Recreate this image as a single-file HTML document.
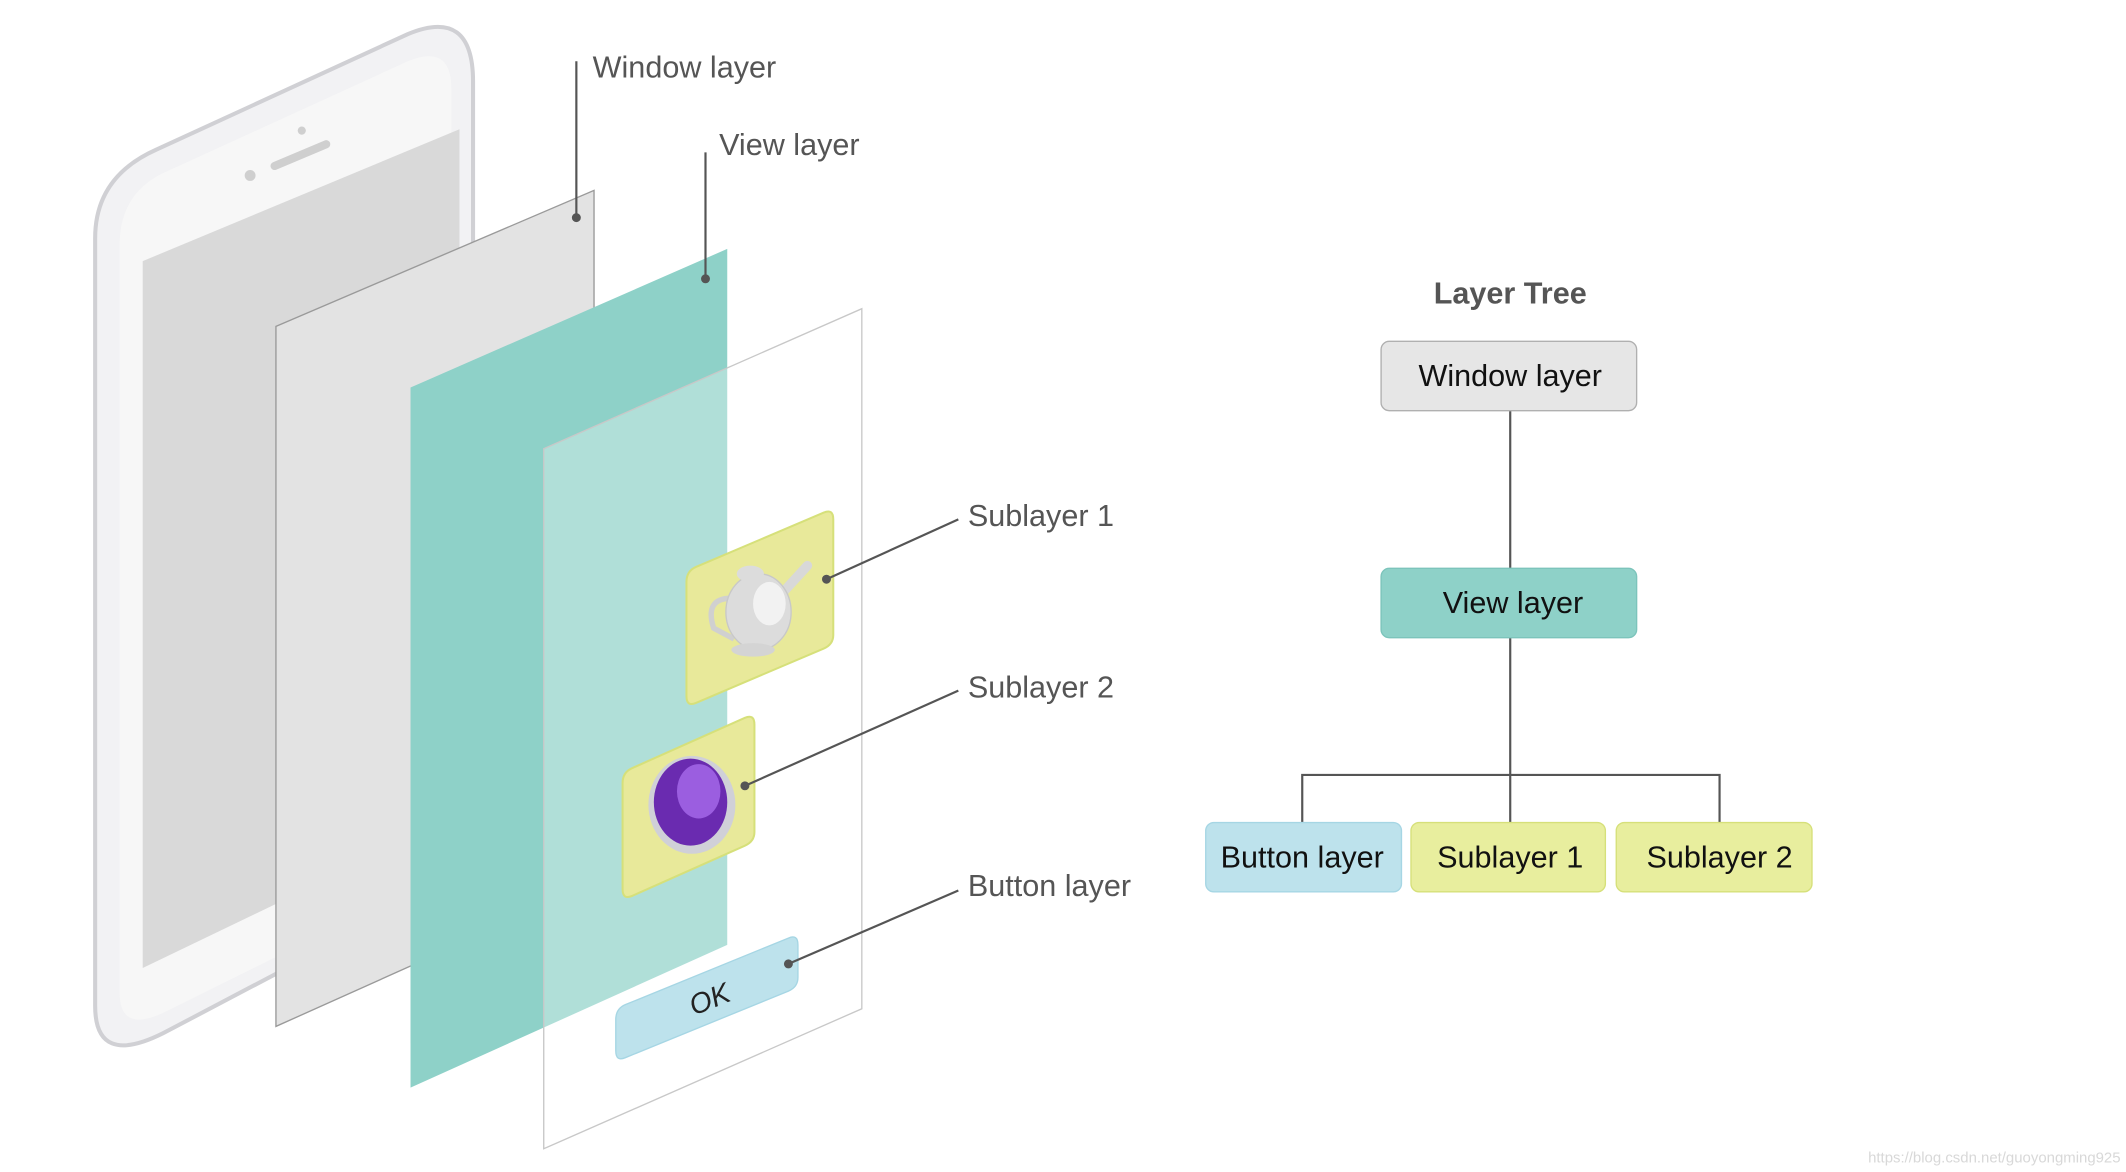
<!DOCTYPE html>
<html><head><meta charset="utf-8"><style>
html,body{margin:0;padding:0;background:#fff;width:2126px;height:1172px;overflow:hidden}
svg{display:block}
text{font-family:"Liberation Sans",sans-serif}
</style></head><body>
<svg width="2126" height="1172" viewBox="0 0 1564 862" xmlns="http://www.w3.org/2000/svg">
<g>
<path d="M70,175 Q70,130 115,110 L300,25 Q348,5 348,60 L348,640 L120,760 Q70,785 70,740 Z" fill="#f2f2f4" stroke="#d0d0d4" stroke-width="3"/>
<path d="M88,180 Q88,140 125,125 L300,45 Q332,32 332,65 L332,640 L120,745 Q88,760 88,730 Z" fill="#f7f7f7" stroke="none"/>
<polygon points="105,192 338,95 338,600 105,712" fill="#d9d9d9"/>
<line x1="202" y1="122" x2="240" y2="106" stroke="#cfcfcf" stroke-width="6" stroke-linecap="round"/>
<circle cx="184" cy="129" r="4" fill="#cfcfcf"/>
<circle cx="222" cy="96" r="3" fill="#cfcfcf"/>
</g>
<polygon points="203,240 437,140 437,650 203,755" fill="#e3e3e3" stroke="#9a9a9a" stroke-width="1"/>
<polygon points="302,285 535,183 535,695 302,800" fill="#8ed1c8"/>
<polygon points="400,330 634,227 634,742 400,845" fill="rgba(255,255,255,0.3)" stroke="#c8c8c8" stroke-width="1"/>
<g>
<path d="M505,428 Q505,420 512,417 L606,377 Q613,374 613,382 L613,467 Q613,474 606,477 L512,517 Q505,520 505,512 Z" fill="#e8e99a" stroke="#d6e07a" stroke-width="1.5"/>
<path d="M538,440 Q518,440 525,462 L540,470" fill="none" stroke="#d0d0d0" stroke-width="4"/>
<path d="M572,440 L594,416" stroke="#d8d8d8" stroke-width="7" stroke-linecap="round"/>
<ellipse cx="558" cy="450" rx="24" ry="28" fill="#dcdcdc" stroke="#c8c8c8"/>
<ellipse cx="552" cy="422" rx="10" ry="6" fill="#dcdcdc"/>
<ellipse cx="566" cy="444" rx="12" ry="16" fill="#f2f2f2"/>
<ellipse cx="554" cy="478" rx="16" ry="5" fill="#d4d4d4"/>
</g>
<g>
<path d="M458,576 Q458,568 465,565 L548,528 Q555,525 555,533 L555,612 Q555,619 548,622 L465,659 Q458,662 458,654 Z" fill="#e8e99a" stroke="#d6e07a" stroke-width="1.5"/>
<ellipse cx="509" cy="592" rx="32" ry="36" fill="#d0d0d8"/>
<ellipse cx="508" cy="590" rx="27" ry="32" fill="#6a2bb0"/>
<ellipse cx="514" cy="582" rx="16" ry="20" fill="#9b5ee0"/>
</g>
<g>
<path d="M453,750 Q453,742 460,739 L580,690 Q587,687 587,695 L587,719 Q587,726 580,729 L460,778 Q453,781 453,773 Z" fill="#bde2ec" stroke="#a6d6e4"/>
<text x="522" y="742" font-size="21" fill="#222" font-style="italic" text-anchor="middle" transform="rotate(-22 522 735)">OK</text>
</g>
<g stroke="#555" stroke-width="1.6" fill="#555">
<line x1="424" y1="45" x2="424" y2="160"/><circle cx="424" cy="160" r="2.5"/>
<line x1="519" y1="112" x2="519" y2="205"/><circle cx="519" cy="205" r="2.5"/>
<line x1="608" y1="426" x2="705" y2="382"/><circle cx="608" cy="426" r="2.5"/>
<line x1="548" y1="578" x2="705" y2="508"/><circle cx="548" cy="578" r="2.5"/>
<line x1="580" y1="709" x2="705" y2="655"/><circle cx="580" cy="709" r="2.5"/>
</g>
<g font-size="22.5" fill="#555">
<text x="436" y="57">Window layer</text>
<text x="529" y="114">View layer</text>
<text x="712" y="387">Sublayer 1</text>
<text x="712" y="513">Sublayer 2</text>
<text x="712" y="659">Button layer</text>
</g>
<g>
<text x="1111" y="223" font-size="22.5" font-weight="bold" fill="#555" text-anchor="middle">Layer Tree</text>
<g stroke="#555" stroke-width="1.6" fill="none">
<line x1="1111" y1="302" x2="1111" y2="418"/>
<line x1="1111" y1="469" x2="1111" y2="605"/>
<polyline points="958,605 958,570 1265,570 1265,605"/>
</g>
<rect x="1016" y="251" width="188" height="51" rx="6" fill="#e6e6e6" stroke="#b0b0b0"/>
<rect x="1016" y="418" width="188" height="51" rx="6" fill="#8ed1c8" stroke="#7cc4bb"/>
<rect x="887" y="605" width="144" height="51" rx="6" fill="#bde2ec" stroke="#a6d6e4"/>
<rect x="1038" y="605" width="143" height="51" rx="6" fill="#e8ee9e" stroke="#d6e07a"/>
<rect x="1189" y="605" width="144" height="51" rx="6" fill="#e8ee9e" stroke="#d6e07a"/>
<g font-size="22.5" fill="#111" text-anchor="middle">
<text x="1111" y="284">Window layer</text>
<text x="1113" y="451">View layer</text>
<text x="958" y="638">Button layer</text>
<text x="1111" y="638">Sublayer 1</text>
<text x="1265" y="638">Sublayer 2</text>
</g>
</g>
<text x="1560" y="855" font-size="11" fill="#d8d8d8" text-anchor="end">https://blog.csdn.net/guoyongming925</text>
</svg>
</body></html>
